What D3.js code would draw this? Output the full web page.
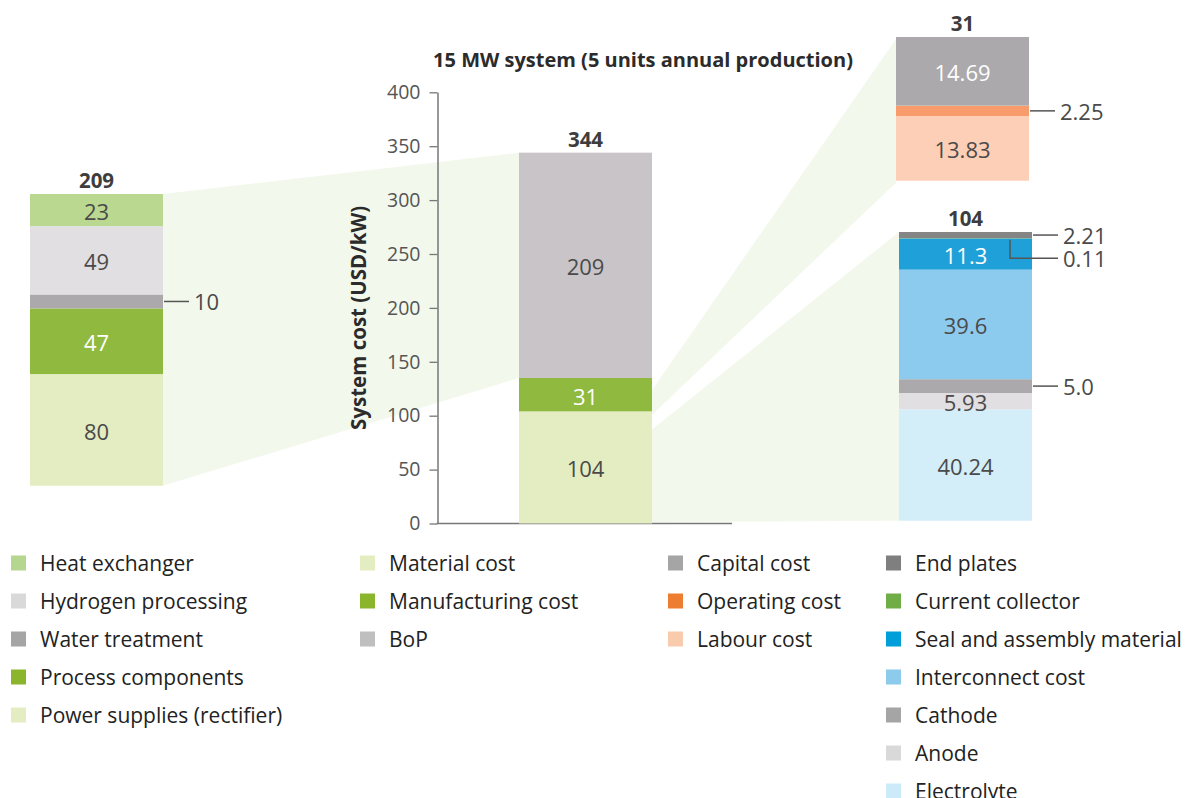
<!DOCTYPE html>
<html>
<head>
<meta charset="utf-8">
<script src="https://cdn.jsdelivr.net/npm/d3@7"></script>
<style>
  html, body { margin: 0; padding: 0; background: #fff; }
  svg { display: block; font-family: "Open Sans", "Noto Sans", sans-serif; }
</style>
</head>
<body>
<svg id="chart" width="1186" height="798"></svg>
<script>
// ---- Data -------------------------------------------------------------
// Main system bar (USD/kW), bottom to top
const systemItems  = ["Material cost", "Manufacturing cost", "BoP"];
const systemValues = [104, 31, 209];
const systemLabels = ["104", "31", "209"];
const systemTotal  = "344";

// BoP breakdown, bottom to top
const bopItems  = ["Power supplies (rectifier)", "Process components", "Water treatment", "Hydrogen processing", "Heat exchanger"];
const bopValues = [80, 47, 10, 49, 23];
const bopLabels = ["80", "47", "10", "49", "23"];
const bopTotal  = "209";

// Manufacturing cost breakdown, bottom to top
const mfgItems  = ["Labour cost", "Operating cost", "Capital cost"];
const mfgValues = [13.83, 2.25, 14.69];
const mfgLabels = ["13.83", "2.25", "14.69"];
const mfgTotal  = "31";

// Material cost breakdown, bottom to top
const matItems  = ["Electrolyte", "Anode", "Cathode", "Interconnect cost", "Seal and assembly material", "Current collector", "End plates"];
const matValues = [40.24, 5.93, 5.0, 39.6, 11.3, 0.11, 2.21];
const matLabels = ["40.24", "5.93", "5.0", "39.6", "11.3", "0.11", "2.21"];
const matTotal  = "104";

const yTicks = [0, 50, 100, 150, 200, 250, 300, 350, 400];

const chartTitle = "15 MW system (5 units annual production)";
const yAxisTitle = "System cost (USD/kW)";

// Legend columns (top to bottom)
const legendCol1 = ["Heat exchanger", "Hydrogen processing", "Water treatment", "Process components", "Power supplies (rectifier)"];
const legendCol2 = ["Material cost", "Manufacturing cost", "BoP"];
const legendCol3 = ["Capital cost", "Operating cost", "Labour cost"];
const legendCol4 = ["End plates", "Current collector", "Seal and assembly material", "Interconnect cost", "Cathode", "Anode", "Electrolyte"];

// ---- Colours -----------------------------------------------------------
const fillColor = {
  "Heat exchanger": "#bad88f",
  "Hydrogen processing": "#e1dfe1",
  "Water treatment": "#aba9ab",
  "Process components": "#90ba3f",
  "Power supplies (rectifier)": "#e3edc1",
  "Material cost": "#e3edc1",
  "Manufacturing cost": "#90ba3f",
  "BoP": "#c8c4c8",
  "Capital cost": "#aba9ab",
  "Operating cost": "#f89c6b",
  "Labour cost": "#fecfb7",
  "End plates": "#858585",
  "Current collector": "#70ad47",
  "Seal and assembly material": "#20a0d8",
  "Interconnect cost": "#8dcbee",
  "Cathode": "#aba9ab",
  "Anode": "#e1dfe1",
  "Electrolyte": "#d3edf9"
};
const swatchColor = Object.assign({}, fillColor, {
  "Heat exchanger": "#b5d68f",
  "Hydrogen processing": "#d9d9d9",
  "Water treatment": "#a5a5a5",
  "Process components": "#8cb52e",
  "Manufacturing cost": "#8cb52e",
  "BoP": "#bfbfbf",
  "Capital cost": "#a5a5a5",
  "Operating cost": "#ed7d31",
  "Labour cost": "#f8cbad",
  "End plates": "#7f7f7f",
  "Seal and assembly material": "#009fd9",
  "Interconnect cost": "#8ccbec",
  "Cathode": "#a5a5a5",
  "Anode": "#d9d9d9",
  "Electrolyte": "#cdeaf9"
});
const linkColor = "#f3f8ec";
const textDark = "#4a4a4a";
const titleColor = "#2b2b2b";

// Type sizes
const fsValue = 22, fsTotal = 20.5, fsTick = 19.5, fsTitle = 20, fsAxisTitle = 20.5, fsLegend = 21;

// ---- Layout ------------------------------------------------------------
const svg = d3.select("#chart");
const gLinks = svg.append("g");
const gAxis = svg.append("g");
const gBars = svg.append("g");
const gText = svg.append("g");

const yMain = d3.scaleLinear().domain([0, 400]).range([523.5, 92.3]);

function stackUp(values) {
  let acc = 0;
  return values.map(v => { const s = { y0: acc, y1: acc + v }; acc += v; return s; });
}

const stacks = {
  system: { items: systemItems, values: systemValues, labels: systemLabels, total: systemTotal,
            x0: 519, x1: 652, y: yMain, white: [1], callouts: [] },
  bop:    { items: bopItems, values: bopValues, labels: bopLabels, total: bopTotal,
            x0: 30, x1: 163, y: d3.scaleLinear().domain([0, d3.sum(bopValues)]).range([485.7, 194]),
            white: [1], callouts: [2] },
  mfg:    { items: mfgItems, values: mfgValues, labels: mfgLabels, total: mfgTotal,
            x0: 896, x1: 1029, y: d3.scaleLinear().domain([0, d3.sum(mfgValues)]).range([180.7, 37]),
            white: [2], callouts: [1] },
  mat:    { items: matItems, values: matValues, labels: matLabels, total: matTotal,
            x0: 899, x1: 1032, y: d3.scaleLinear().domain([0, d3.sum(matValues)]).range([520.7, 232]),
            white: [4], callouts: [6, 2], elbows: [5] }
};
Object.values(stacks).forEach(s => { s.segs = stackUp(s.values); });

// ---- Connecting bands ----------------------------------------------------
const band = d3.line();
function drawBand(pts) {
  gLinks.append("path").attr("d", band(pts) + "Z").attr("fill", linkColor);
}
{
  const S = stacks.system, B = stacks.bop, M = stacks.mfg, T = stacks.mat;
  const bopSeg = S.segs[2], mfgSeg = S.segs[1], matSeg = S.segs[0];
  // BoP -> breakdown on the left
  drawBand([[B.x1, B.y(d3.sum(B.values))], [S.x0, S.y(bopSeg.y1)], [S.x0, S.y(bopSeg.y0)], [B.x1, B.y(0)]]);
  // Manufacturing -> top right breakdown
  drawBand([[S.x1, S.y(mfgSeg.y1) + 12], [M.x0, M.y(d3.sum(M.values)) + 2], [M.x0, M.y(0) + 2], [S.x1, S.y(mfgSeg.y0) + 3.5]]);
  // Material -> bottom right breakdown
  drawBand([[S.x1, S.y(matSeg.y1) + 18], [T.x0, T.y(d3.sum(T.values))], [T.x0, T.y(0)], [S.x1, S.y(0) - 1.5]]);
}

// ---- Axis ----------------------------------------------------------------
const axisX = 437.5;
const axis = d3.axisLeft(yMain).tickValues(yTicks).tickSize(8).tickPadding(9).tickSizeOuter(0);
const ga = gAxis.append("g").attr("transform", `translate(${axisX},0)`).call(axis);
ga.select(".domain").attr("stroke", "#777").attr("stroke-width", 1.5);
ga.selectAll(".tick line").attr("stroke", "#777").attr("stroke-width", 1.3);
ga.selectAll(".tick text").attr("fill", "#555").attr("font-size", fsTick).attr("font-family", "'Open Sans', sans-serif");
gAxis.append("line")
  .attr("x1", axisX - 0.75).attr("x2", 732)
  .attr("y1", yMain(0)).attr("y2", yMain(0))
  .attr("stroke", "#777").attr("stroke-width", 1.6);

gText.append("text")
  .attr("transform", `translate(358,${(yMain(0) + yMain(400)) / 2 + 10}) rotate(-90)`)
  .attr("text-anchor", "middle").attr("dominant-baseline", "central")
  .attr("font-size", fsAxisTitle).attr("font-weight", 700).attr("fill", titleColor)
  .text(yAxisTitle);

gText.append("text")
  .attr("x", 643).attr("y", 59)
  .attr("text-anchor", "middle").attr("dominant-baseline", "central")
  .attr("font-size", fsTitle).attr("font-weight", 700).attr("fill", titleColor)
  .text(chartTitle);

// ---- Stacks --------------------------------------------------------------
function drawStack(s) {
  const cx = (s.x0 + s.x1) / 2;
  s.segs.forEach((seg, i) => {
    gBars.append("rect")
      .attr("x", s.x0).attr("width", s.x1 - s.x0)
      .attr("y", s.y(seg.y1)).attr("height", s.y(seg.y0) - s.y(seg.y1))
      .attr("fill", fillColor[s.items[i]]);
  });
  s.segs.forEach((seg, i) => {
    const mid = (s.y(seg.y0) + s.y(seg.y1)) / 2;
    if (s.callouts.includes(i)) {
      gText.append("line").attr("x1", s.x1 + 1).attr("x2", s.x1 + 26).attr("y1", mid).attr("y2", mid)
        .attr("stroke", "#555").attr("stroke-width", 1.5);
      gText.append("text").attr("x", s.x1 + 31).attr("y", mid).attr("dominant-baseline", "central")
        .attr("font-size", fsValue).attr("fill", textDark).text(s.labels[i]);
    } else if (s.elbows && s.elbows.includes(i)) {
      const yEnd = mid + 20;
      gText.append("path")
        .attr("d", d3.line()([[s.x1 - 22, mid + 1.5], [s.x1 - 22, yEnd], [s.x1 + 26, yEnd]]))
        .attr("fill", "none").attr("stroke", "#555").attr("stroke-width", 1.5);
      gText.append("text").attr("x", s.x1 + 31).attr("y", yEnd).attr("dominant-baseline", "central")
        .attr("font-size", fsValue).attr("fill", textDark).text(s.labels[i]);
    } else {
      gText.append("text").attr("x", cx).attr("y", mid + 1).attr("text-anchor", "middle")
        .attr("dominant-baseline", "central").attr("font-size", fsValue)
        .attr("fill", s.white.includes(i) ? "#ffffff" : textDark).text(s.labels[i]);
    }
  });
  const top = s.y(d3.sum(s.values));
  gText.append("text").attr("x", cx).attr("y", top - 14).attr("text-anchor", "middle")
    .attr("dominant-baseline", "central").attr("font-size", fsTotal).attr("font-weight", 700)
    .attr("fill", "#3d3d3d").text(s.total);
}
Object.values(stacks).forEach(drawStack);

// ---- Legend --------------------------------------------------------------
const legendCols = [
  { x: 11, items: legendCol1 },
  { x: 360, items: legendCol2 },
  { x: 668, items: legendCol3 },
  { x: 886, items: legendCol4 }
];
const legendTop = 563, legendStep = 38;
legendCols.forEach(col => {
  const g = svg.append("g").attr("transform", `translate(${col.x},0)`);
  col.items.forEach((name, i) => {
    const y = legendTop + i * legendStep;
    g.append("rect").attr("x", 0).attr("y", y - 7.5).attr("width", 15).attr("height", 15)
      .attr("fill", swatchColor[name]);
    g.append("text").attr("x", 29).attr("y", y).attr("dominant-baseline", "central")
      .attr("font-size", fsLegend).attr("fill", "#222").text(name);
  });
});
</script>
</body>
</html>
